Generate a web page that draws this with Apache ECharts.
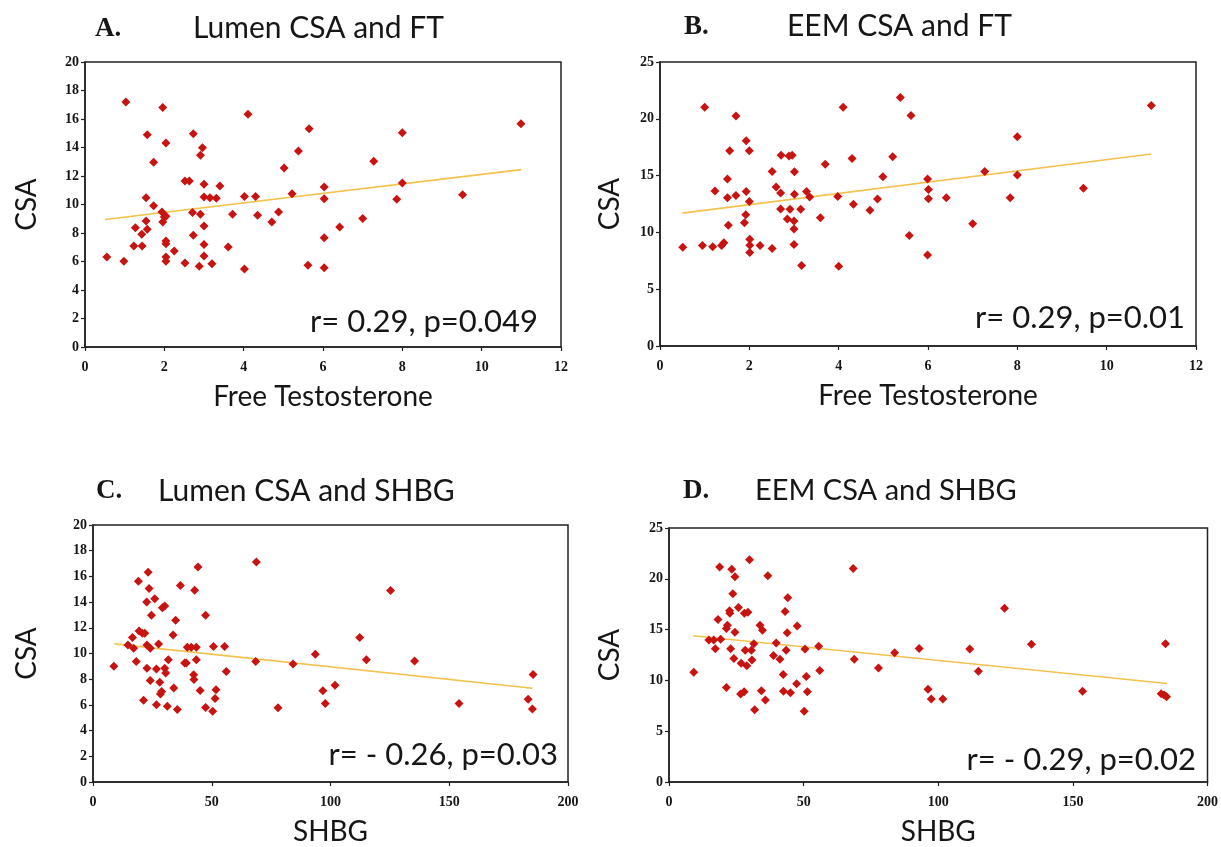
<!DOCTYPE html>
<html><head><meta charset="utf-8">
<script src="https://cdn.jsdelivr.net/npm/echarts@6/dist/echarts.min.js"></script>
<style>html,body{margin:0;padding:0;background:#fff}#c{width:1221px;height:847px}</style>
</head><body><div id="c"></div>
<script>
// Panel A: Lumen CSA vs Free Testosterone
const ptsA = [[0.55,6.32],[0.98,6.01],[1.03,17.19],[1.23,7.09],[1.27,8.37],[1.43,7.91],[1.44,7.09],[1.54,10.48],[1.54,8.84],[1.57,14.9],[1.57,8.26],[1.73,12.96],[1.73,9.92],[1.94,9.47],[1.96,8.77],[1.96,16.8],[2.0,9.12],[2.04,14.32],[2.04,9.17],[2.04,7.44],[2.04,7.25],[2.04,6.32],[2.04,6.01],[2.25,6.74],[2.52,11.65],[2.52,5.89],[2.63,11.65],[2.71,9.43],[2.73,14.97],[2.73,7.84],[2.88,5.66],[2.91,13.45],[2.91,9.31],[2.96,13.99],[3.0,11.42],[3.0,10.53],[3.0,8.49],[3.0,7.2],[3.0,6.39],[3.15,10.48],[3.2,5.85],[3.31,10.43],[3.4,11.3],[3.61,7.02],[3.72,9.31],[4.02,10.57],[4.02,5.47],[4.11,16.33],[4.3,10.57],[4.35,9.24],[4.71,8.77],[4.88,9.47],[5.02,12.56],[5.22,10.76],[5.38,13.75],[5.62,5.73],[5.65,15.32],[6.03,11.23],[6.03,10.41],[6.03,7.67],[6.03,5.57],[6.42,8.42],[7.0,9.01],[7.28,13.03],[7.86,10.36],[8.0,15.04],[8.0,11.51],[9.52,10.69],[10.99,15.67]];
const trendA = [[0.5,8.95],[11,12.45]];
// Panel B: EEM CSA vs Free Testosterone
const ptsB = [[0.51,8.7],[0.95,8.84],[1.0,21.02],[1.18,8.73],[1.23,13.65],[1.38,8.84],[1.43,9.08],[1.51,14.71],[1.51,13.06],[1.53,10.64],[1.56,17.19],[1.7,20.25],[1.7,13.24],[1.89,10.85],[1.92,11.56],[1.93,13.59],[1.93,18.07],[2.0,12.71],[2.0,17.19],[2.01,9.4],[2.01,8.87],[2.01,8.23],[2.24,8.84],[2.51,15.36],[2.51,8.58],[2.6,14.0],[2.7,13.47],[2.7,12.06],[2.71,16.8],[2.85,11.17],[2.89,16.72],[2.91,12.03],[2.96,16.8],[3.0,11.0],[3.0,10.29],[3.01,15.33],[3.01,13.36],[3.0,8.93],[3.15,12.03],[3.17,7.08],[3.28,13.59],[3.35,13.12],[3.59,11.29],[3.7,16.01],[3.98,13.15],[4.0,7.02],[4.1,21.02],[4.3,16.51],[4.33,12.47],[4.7,11.94],[4.87,12.94],[4.99,14.89],[5.21,16.66],[5.38,21.87],[5.58,9.73],[5.62,20.28],[5.99,14.71],[6.01,13.77],[6.01,12.97],[5.99,8.02],[6.41,13.06],[7.0,10.76],[7.27,15.36],[7.84,13.06],[8.0,18.43],[8.0,15.06],[9.48,13.89],[11.0,21.17]];
const trendB = [[0.5,11.7],[11,16.9]];
// Panel C: Lumen CSA vs SHBG
const ptsC = [[8.8,9.01],[14.7,10.66],[16.6,11.25],[17.1,10.4],[18.2,9.37],[19.1,15.62],[19.4,11.76],[20.8,11.58],[21.3,6.36],[21.8,11.58],[22.6,14.0],[22.7,10.66],[22.7,8.85],[23.2,16.32],[23.6,15.06],[24.1,10.4],[24.1,7.9],[24.6,12.97],[26.0,14.26],[26.7,6.02],[26.7,8.8],[27.6,10.73],[28.1,7.77],[28.4,6.85],[28.9,7.05],[29.2,13.56],[30.2,13.69],[30.2,8.85],[30.6,8.49],[31.3,5.89],[31.7,9.52],[33.7,11.43],[34.0,7.31],[34.8,12.59],[35.5,5.64],[36.8,15.29],[38.6,9.27],[39.3,9.27],[39.7,10.48],[41.4,10.48],[42.4,8.34],[42.5,7.98],[42.8,14.93],[43.5,10.48],[43.5,9.52],[44.2,16.73],[45.1,7.13],[47.4,12.97],[47.4,5.79],[50.4,5.51],[50.7,10.55],[51.4,6.49],[51.8,7.18],[55.4,10.55],[56.1,8.6],[68.8,17.12],[68.5,9.37],[77.9,5.77],[84.2,9.19],[93.6,9.94],[96.8,7.1],[97.8,6.1],[101.9,7.52],[112.3,11.25],[115.1,9.52],[125.3,14.9],[135.4,9.42],[154.1,6.1],[183.2,6.43],[185.3,8.37],[185.0,5.69]];
const trendC = [[9,10.75],[185,7.3]];
// Panel D: EEM CSA vs SHBG
const ptsD = [[9.2,10.79],[14.8,13.98],[16.6,13.98],[17.2,13.12],[18.2,16.0],[18.8,21.17],[19.2,14.05],[21.3,9.29],[21.3,15.1],[21.7,15.42],[22.5,16.86],[22.6,16.6],[22.9,13.12],[23.3,20.95],[23.7,18.52],[24.1,12.16],[24.5,20.21],[24.5,14.75],[25.8,17.18],[26.6,8.65],[26.8,11.69],[27.9,8.88],[28.0,16.6],[28.3,12.96],[28.9,11.43],[29.3,16.7],[29.9,21.87],[30.6,12.96],[30.8,12.01],[31.5,13.6],[31.8,7.12],[33.8,15.42],[34.3,8.97],[34.7,14.94],[35.8,8.08],[36.7,20.31],[38.8,12.45],[39.8,13.67],[41.2,12.07],[42.4,10.57],[42.5,8.94],[43.1,16.79],[43.5,12.96],[43.9,14.69],[44.1,18.14],[45.1,8.78],[47.4,9.67],[47.6,15.36],[50.2,6.96],[50.5,13.09],[51.0,10.38],[51.4,8.88],[55.6,13.35],[56.0,10.98],[68.4,21.01],[68.8,12.07],[77.8,11.21],[83.8,12.71],[92.9,13.15],[96.2,9.13],[97.4,8.17],[101.7,8.17],[111.7,13.09],[114.9,10.89],[124.6,17.11],[134.6,13.57],[153.6,8.94],[182.8,8.68],[183.9,8.56],[184.8,8.4],[184.4,13.6]];
const trendD = [[9,14.4],[185,9.7]];

const panelLetters = ['A.', 'B.', 'C.', 'D.'];
const panelTitles = ['Lumen CSA and FT', 'EEM CSA and FT', 'Lumen CSA and SHBG', 'EEM CSA and SHBG'];
const statTexts = ['r= 0.29, p=0.049', 'r= 0.29, p=0.01', 'r= - 0.26, p=0.03', 'r= - 0.29, p=0.02'];
const xNames = ['Free Testosterone', 'Free Testosterone', 'SHBG', 'SHBG'];
const yName = 'CSA';
const xMax = [12, 12, 200, 200];
const xStep = [2, 2, 50, 50];
const yMax = [20, 25, 20, 25];
const yStep = [2, 5, 2, 5];

const points = [ptsA, ptsB, ptsC, ptsD];
const trends = [trendA, trendB, trendC, trendD];

const grids = [
  {left: 85, top: 62, width: 476, height: 285},
  {left: 660, top: 62, width: 536, height: 284},
  {left: 93, top: 525, width: 475, height: 259},
  {left: 669, top: 528, width: 539, height: 261}
];
const yGap = [44, 36, 52, 45];
const xGap = [36, 36, 36, 36];
const letterPos = [[95, 14], [684, 12], [96, 476], [683, 476]];
const titlePos = [[193, 12], [787, 10], [158, 475], [755, 475]];
const statPos = [[683, 306], [36, 302], [663, 739], [25, 744]];

const sans = 'Lato, "Open Sans", sans-serif';
const ink = '#161616';
const tickFont = {fontFamily: '"Liberation Serif", serif', fontWeight: 'bold', fontSize: 14, color: ink};

const titles = [];
for (let i = 0; i < 4; i++) {
  titles.push({text: panelLetters[i], left: letterPos[i][0], top: letterPos[i][1], padding: 0,
    textStyle: {fontFamily: '"Liberation Serif", serif', fontWeight: 'bold', fontSize: 27, lineHeight: 30, color: ink}});
  titles.push({text: panelTitles[i], left: titlePos[i][0], top: titlePos[i][1], padding: 0,
    textStyle: {fontFamily: sans, fontWeight: 'normal', fontSize: i === 3 ? 29 : 30, lineHeight: 32, color: ink}});
  titles.push({text: statTexts[i], right: statPos[i][0], top: statPos[i][1], padding: 0,
    textStyle: {fontFamily: sans, fontWeight: 'normal', fontSize: 31, lineHeight: 32, color: ink}});
}

const option = {
  animation: false,
  backgroundColor: '#fff',
  title: titles,
  grid: grids.map(g => Object.assign({show: true, borderColor: '#222', borderWidth: 1.5, backgroundColor: '#fff'}, g)),
  xAxis: grids.map((g, i) => ({
    gridIndex: i, type: 'value', min: 0, max: xMax[i], interval: xStep[i],
    name: xNames[i], nameLocation: 'middle', nameGap: xGap[i],
    nameTextStyle: {fontFamily: sans, fontSize: 28, color: ink},
    axisLine: {onZero: false, lineStyle: {color: '#222', width: 1.5}},
    axisTick: {length: 4, lineStyle: {color: '#222', width: 1.2}},
    axisLabel: Object.assign({margin: 13}, tickFont),
    splitLine: {show: false}
  })),
  yAxis: grids.map((g, i) => ({
    gridIndex: i, type: 'value', min: 0, max: yMax[i], interval: yStep[i],
    name: yName, nameLocation: 'middle', nameGap: yGap[i],
    nameTextStyle: {fontFamily: sans, fontSize: 28, color: ink},
    axisLine: {onZero: false, lineStyle: {color: '#222', width: 1.5}},
    axisTick: {length: 4, lineStyle: {color: '#222', width: 1.2}},
    axisLabel: Object.assign({margin: 6}, tickFont),
    splitLine: {show: false}
  })),
  series: []
};
for (let i = 0; i < 4; i++) {
  option.series.push({type: 'line', xAxisIndex: i, yAxisIndex: i, data: trends[i], showSymbol: false,
    lineStyle: {color: '#f4c24c', width: 1.6}, z: 2, silent: true});
  option.series.push({type: 'scatter', xAxisIndex: i, yAxisIndex: i, data: points[i], symbol: 'diamond',
    symbolSize: 9, itemStyle: {color: '#c81410', opacity: 1}, z: 3});
}
const chart = echarts.init(document.getElementById('c'), null, {renderer: 'canvas'});
chart.setOption(option);
</script></body></html>
